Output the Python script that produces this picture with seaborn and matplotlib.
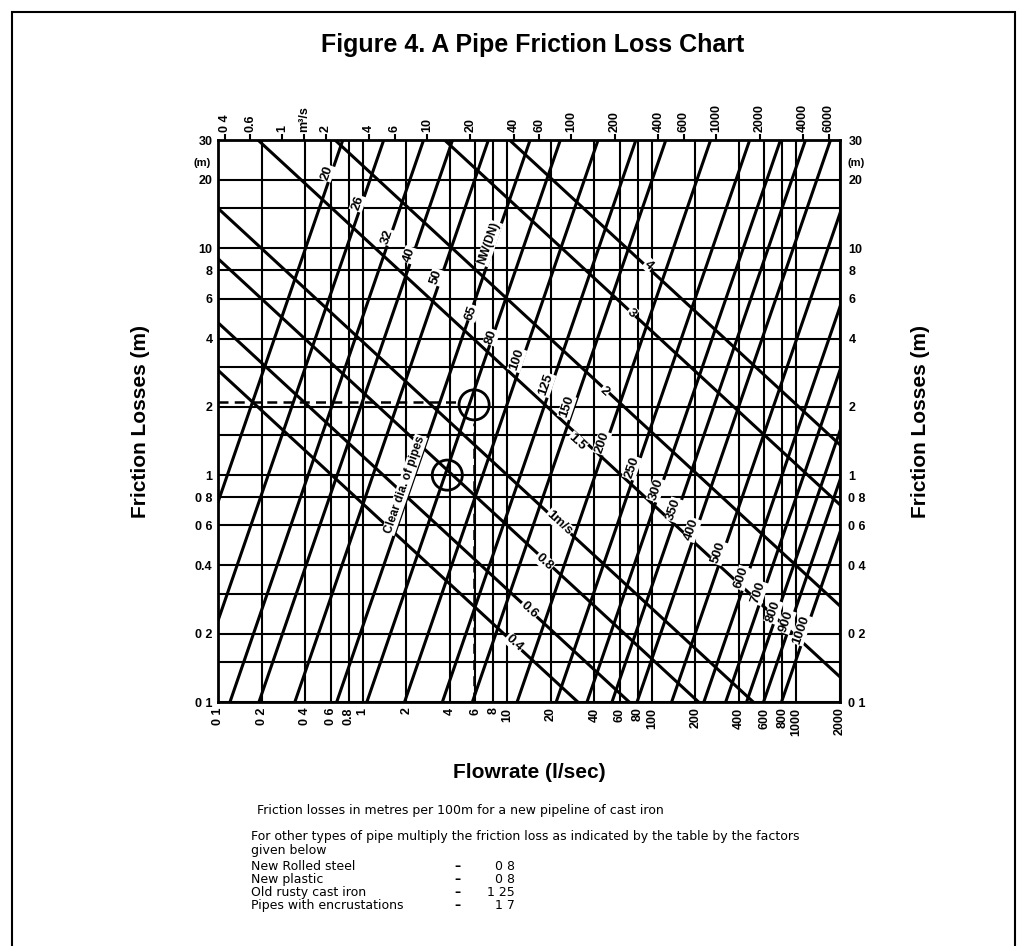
import matplotlib
matplotlib.use("Agg")
import matplotlib.pyplot as plt
from matplotlib.patches import Rectangle
from matplotlib.ticker import NullLocator
import pandas as pd
import seaborn as sns

# grid / tick values (flow in l/s, friction loss in m per 100 m)
flow_grid = [0.1, 0.2, 0.4, 0.6, 0.8, 1, 2, 4, 6, 8, 10, 20, 40, 60, 80, 100,
             200, 400, 600, 800, 1000, 2000]
flow_labels = ["0 1", "0 2", "0 4", "0 6", "0.8", "1", "2", "4", "6", "8", "10",
               "20", "40", "60", "80", "100", "200", "400", "600", "800", "1000", "2000"]
loss_grid = [0.1, 0.15, 0.2, 0.3, 0.4, 0.6, 0.8, 1, 1.5, 2, 3, 4, 6, 8, 10, 15, 20, 30]
loss_labels_left = ["0 1", "", "0 2", "", "0.4", "0 6", "0 8", "1", "", "2", "",
                    "4", "6", "8", "10", "", "20", "30"]
loss_labels_right = ["0 1", "", "0 2", "", "0 4", "0 6", "0 8", "1", "", "2", "",
                     "4", "6", "8", "10", "", "20", "30"]
top_ticks = [0.4, 0.6, 1, 1.41, 2, 4, 6, 10, 20, 40, 60, 100, 200, 400, 600,
             1000, 2000, 4000, 6000]
top_labels = ["0 4", "0.6", "1", "m³/s", "2", "4", "6", "10", "20", "40", "60",
              "100", "200", "400", "600", "1000", "2000", "4000", "6000"]

# pipe diameter lines: flow where each line meets 0.1 m and 30 m
pipe_dn = ["20", "26", "32", "40", "50", "65", "80", "100", "125", "150", "200",
           "250", "300", "350", "400", "500", "600", "700", "800", "900", "1000"]
pipe_q_low = [0.0334, 0.064, 0.121, 0.192, 0.34, 0.662, 1.07, 1.95, 3.56, 5.74, 11.7,
              21.8, 35.6, 53, 79, 137, 229, 324, 452, 592, 788]
pipe_q_high = [0.73, 1.40, 2.64, 4.19, 7.41, 14.4, 23.3, 42.5, 77.6, 125, 255,
               475, 776, 1155, 1720, 2990, 4990, 7060, 9850, 12900, 17200]
pipe_label_q = [0.565, 0.925, 1.49, 2.11, 3.24, 5.65, 7.76, 11.7, 18.6, 25.9, 45.2,
                72.8, 107, 142, 189, 290, 418, 547, 694, 853, 1082]
pipe_label_h = [21.5, 15.8, 11.2, 9.33, 7.47, 5.19, 4.06, 3.22, 2.50, 2.0, 1.39,
                1.08, 0.861, 0.703, 0.574, 0.455, 0.352, 0.303, 0.250, 0.226, 0.208]

# velocity lines: loss where each line meets 0.1 l/s and 2000 l/s
vel_names = ["0.4", "0.6", "0.8", "1m/s", "1.5", "2", "3", "4"]
vel_h_left = [2.9, 4.7, 9.0, 15, 43.6, 89.7, 250, 459]
vel_h_right = [0.0086, 0.0139, 0.0266, 0.0444, 0.129, 0.265, 0.74, 1.36]
vel_label_q = [11.2, 14.2, 18.0, 22.9, 30.4, 46.7, 72.8, 95.3]
vel_label_h = [0.182, 0.255, 0.415, 0.616, 1.40, 2.33, 5.19, 8.44]

# worked example
circle_q = [5.9, 3.85]
circle_h = [2.04, 1.0]

notes = ["New Rolled steel", "New plastic", "Old rusty cast iron", "Pipes with encrustations"]
factors = ["0 8", "0 8", "1 25", "1 7"]

sns.set_style("white")
plt.rcParams["font.family"] = ["Liberation Sans", "DejaVu Sans"]
plt.rcParams.update({"text.color": "black", "xtick.color": "black", "ytick.color": "black",
                     "axes.labelcolor": "black", "axes.edgecolor": "black"})

W, H = 1026, 946
fig = plt.figure(figsize=(W / 100, H / 100), dpi=100)
ax = fig.add_axes([218 / W, 1 - 702 / H, 622 / W, 562 / H])
ax.set_xscale("log")
ax.set_yscale("log")

rows = []
for name, q0, q1 in zip(pipe_dn, pipe_q_low, pipe_q_high):
    rows.append({"line": "d" + name, "q": q0, "h": 0.1})
    rows.append({"line": "d" + name, "q": q1, "h": 30})
for name, h0, h1 in zip(vel_names, vel_h_left, vel_h_right):
    rows.append({"line": "v" + name, "q": 0.1, "h": h0})
    rows.append({"line": "v" + name, "q": 2000, "h": h1})
lines_df = pd.DataFrame(rows)

sns.lineplot(data=lines_df, x="q", y="h", units="line", estimator=None, sort=False,
             color="black", lw=2.2, ax=ax, zorder=3, legend=False)

ax.set_xlim(0.1, 2000)
ax.set_ylim(0.1, 30)
ax.minorticks_off()
ax.set_xticks(flow_grid)
ax.set_xticklabels(flow_labels, rotation=90, fontsize=9, fontweight="bold")
ax.set_yticks(loss_grid)
ax.set_yticklabels(loss_labels_left, fontsize=9, fontweight="bold")
ax.xaxis.set_minor_locator(NullLocator())
ax.yaxis.set_minor_locator(NullLocator())
ax.grid(True, which="major", color="black", lw=1.5)
ax.tick_params(length=0, pad=4)
ax.set_xlabel("")
ax.set_ylabel("")
for s in ax.spines.values():
    s.set_linewidth(2)
    s.set_color("black")

# top scale (m3/h)
sec = ax.secondary_xaxis("top", functions=(lambda q: q * 3.6, lambda m: m / 3.6))
sec.set_xticks(top_ticks)
sec.set_xticklabels(top_labels, rotation=90, fontsize=9, fontweight="bold")
sec.xaxis.set_minor_locator(NullLocator())
sec.tick_params(direction="out", length=4, width=1.5, pad=2)

secy = ax.secondary_yaxis("right")
secy.set_yticks(loss_grid)
secy.set_yticklabels(loss_labels_right, fontsize=9, fontweight="bold")
secy.yaxis.set_minor_locator(NullLocator())
secy.tick_params(length=0, pad=6)

ax.text(-0.012, 23.8, "(m)", transform=ax.get_yaxis_transform(), ha="right",
        va="center", fontsize=8, fontweight="bold")
ax.text(1.012, 23.8, "(m)", transform=ax.get_yaxis_transform(), ha="left",
        va="center", fontsize=8, fontweight="bold")

box = dict(facecolor="white", edgecolor="none", pad=0.6)
for s, q, h in zip(pipe_dn, pipe_label_q, pipe_label_h):
    ax.text(q, h, s, rotation=71, rotation_mode="anchor", ha="center", va="center",
            fontsize=9.5, fontweight="bold", bbox=box, zorder=4)
for s, q, h in zip(vel_names, vel_label_q, vel_label_h):
    ax.text(q, h, s, rotation=-42.5, rotation_mode="anchor", ha="center", va="center",
            fontsize=9.5, fontweight="bold", bbox=box, zorder=4)
ax.text(7.51, 10.5, "NW(DN)", rotation=71, rotation_mode="anchor", ha="center",
        va="center", fontsize=8.5, fontweight="bold", bbox=box, zorder=4)
ax.text(1.95, 0.906, "Clear dia. of pipes", rotation=71, rotation_mode="anchor",
        ha="center", va="center", fontsize=8.5, fontweight="bold", bbox=box, zorder=4)

ax.scatter(circle_q, circle_h, s=470, facecolors="none", edgecolors="black",
           linewidths=2, zorder=5)
ax.plot([0.1, 4.45], [2.1, 2.1], color="black", lw=1.8, ls=(0, (4, 2.5)), zorder=5)
ax.plot([5.9, 5.9], [0.1, 1.7], color="black", lw=1.8, ls=(0, (4, 2.5)), zorder=5)

fig.text(533 / W, 1 - 45 / H, "Figure 4. A Pipe Friction Loss Chart", ha="center",
         va="center", fontsize=18, fontweight="bold")
fig.text(141 / W, 1 - 421 / H, "Friction Losses (m)", rotation=90, ha="center",
         va="center", fontsize=15, fontweight="bold")
fig.text(921 / W, 1 - 421 / H, "Friction Losses (m)", rotation=90, ha="center",
         va="center", fontsize=15, fontweight="bold")
fig.text(529 / W, 1 - 772 / H, "Flowrate (l/sec)", ha="center", va="center",
         fontsize=15, fontweight="bold")

note_font = dict(family="DejaVu Sans", fontsize=9, ha="left", va="center")
fig.text(257 / W, 1 - 810 / H,
         "Friction losses in metres per 100m for a new pipeline of cast iron", **note_font)
fig.text(251 / W, 1 - 836 / H,
         "For other types of pipe multiply the friction loss as indicated by the table by the factors",
         **note_font)
fig.text(251 / W, 1 - 850 / H, "given below", **note_font)
for i, (n, f) in enumerate(zip(notes, factors)):
    y = 1 - (866 + 13 * i) / H
    fig.text(251 / W, y, n, **note_font)
    fig.text(457 / W, y, "–", family="DejaVu Sans", fontsize=9, fontweight="bold",
             ha="center", va="center")
    fig.text(515 / W, y, f, family="DejaVu Sans", fontsize=9, ha="right", va="center")

fig.add_artist(Rectangle((12 / W, -0.02), (1015 - 12) / W, 1.02 - 12 / H,
                         transform=fig.transFigure, fill=False, lw=1.5, color="black"))

fig.savefig("out.png", dpi=100)
